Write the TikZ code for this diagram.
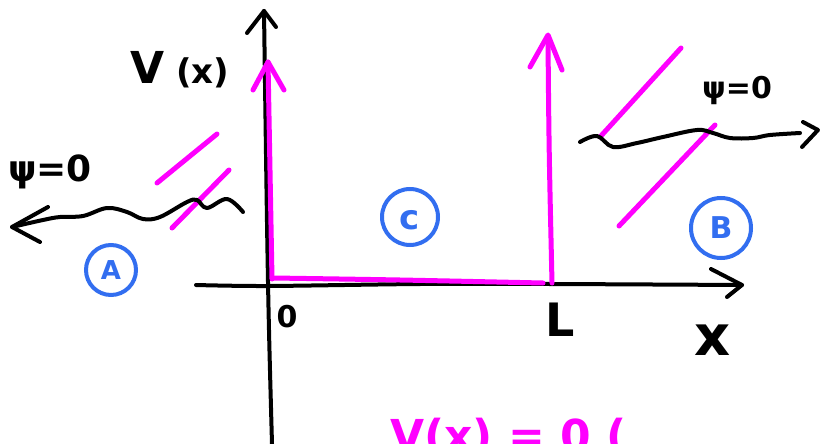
\documentclass[tikz,border=0pt]{standalone}
\usepackage{fontspec}
\setmainfont{DejaVu Sans}
\definecolor{mag}{RGB}{255,0,255}
\definecolor{pblue}{RGB}{50,110,240}
\begin{document}
\begin{tikzpicture}[x=1pt,y=-1pt,
  ink/.style={line width=4pt,line cap=round,line join=round,black},
  mg/.style={line width=5pt,line cap=round,line join=round,mag},
  bl/.style={line width=4pt,pblue},
  lab/.style={inner sep=0pt,text=black},
  blab/.style={inner sep=0pt,text=pblue},
  fs/.style={font=\fontsize{#1}{#1}\selectfont\bfseries}]
\useasboundingbox (0,0) rectangle (827,444);
% named points
\coordinate (vb) at (272,444); \coordinate (vt) at (264,11);
\coordinate (hl) at (196,285); \coordinate (hr) at (742,285);
% vertical axis
\draw[ink] (vb) .. controls (268,300) .. (vt);
\draw[ink] (247,33) -- (vt) -- (276,27);
% horizontal axis
\draw[ink] plot[smooth] coordinates {(hl) (268,286) (420,284) (550,284) (hr)};
\draw[ink] (711,269) -- (hr) -- (727,297);
% magenta potential
\coordinate (lw) at (268,62); \coordinate (rw) at (548,35);
\draw[mg] (272,279) -- (lw);
\draw[mg] (253,90) -- (lw) -- (284,90);
\draw[mg] plot[smooth] coordinates {(273,278) (400,280) (543,283)};
\draw[mg] (552,283) .. controls (549,150) .. (548,40);
\draw[mg] (530,67) -- (rw) -- (562,70);
% left region
\draw[mg] (157,183) -- (217,134);
\draw[mg] (172,228) -- (229,170);
\coordinate (wl) at (12,227);
\draw[ink] plot[smooth,tension=0.6] coordinates {(243,212) (227,199) (207,208) (197,200) (187,202) (160,217) (143,219) (127,212) (107,208) (83,216) (60,217) (43,220) (wl)};
\draw[ink] (48,207) -- (wl) -- (40,242);
\node[lab,fs=36] (psiL) at (50,172) {ψ=0};
\node[bl,draw,circle,minimum size=50pt,inner sep=0pt] (cA) at (111,270) {};
\node[blab,fs=26] (tA) at (cA) {A};
% right region
\draw[mg] (681,48) -- (600,137);
\draw[mg] (715,125) -- (619,226);
\coordinate (wr) at (818,130);
\draw[ink] plot[smooth,tension=0.6] coordinates {(580,142) (597,136) (613,147) (637,143) (663,137) (697,130) (713,133) (730,138) (753,138) (770,135) (800,133)};
\draw[ink] (803,122) -- (wr) -- (802,147);
\node[lab,fs=30] (psiR) at (737,90) {ψ=0};
\node[bl,draw,circle,minimum size=60pt,inner sep=0pt] (cB) at (721,228) {};
\node[blab,fs=30] (tB) at (cB) {B};
% centre region
\node[bl,draw,circle,minimum size=56pt,inner sep=0pt] (cC) at (410,217) {};
\node[blab,fs=34] (tC) at ([yshift=-3pt]cC) {c};
% labels
\node[lab,anchor=west] (Vx) at (130,70) {\fontsize{44}{44}\selectfont\bfseries V\hspace{12pt}\fontsize{34}{34}\selectfont(x)};
\node[lab,fs=30] (zero) at (287,317) {0};
\node[lab,fs=46] (Ll) at (560,320) {L};
\node[lab,fs=56] (xl) at (713,340) {x};
\node[lab,anchor=north west,fs=44,text=mag] (bot) at (390,418) {V(x) = 0 (};
\end{tikzpicture}
\end{document}
